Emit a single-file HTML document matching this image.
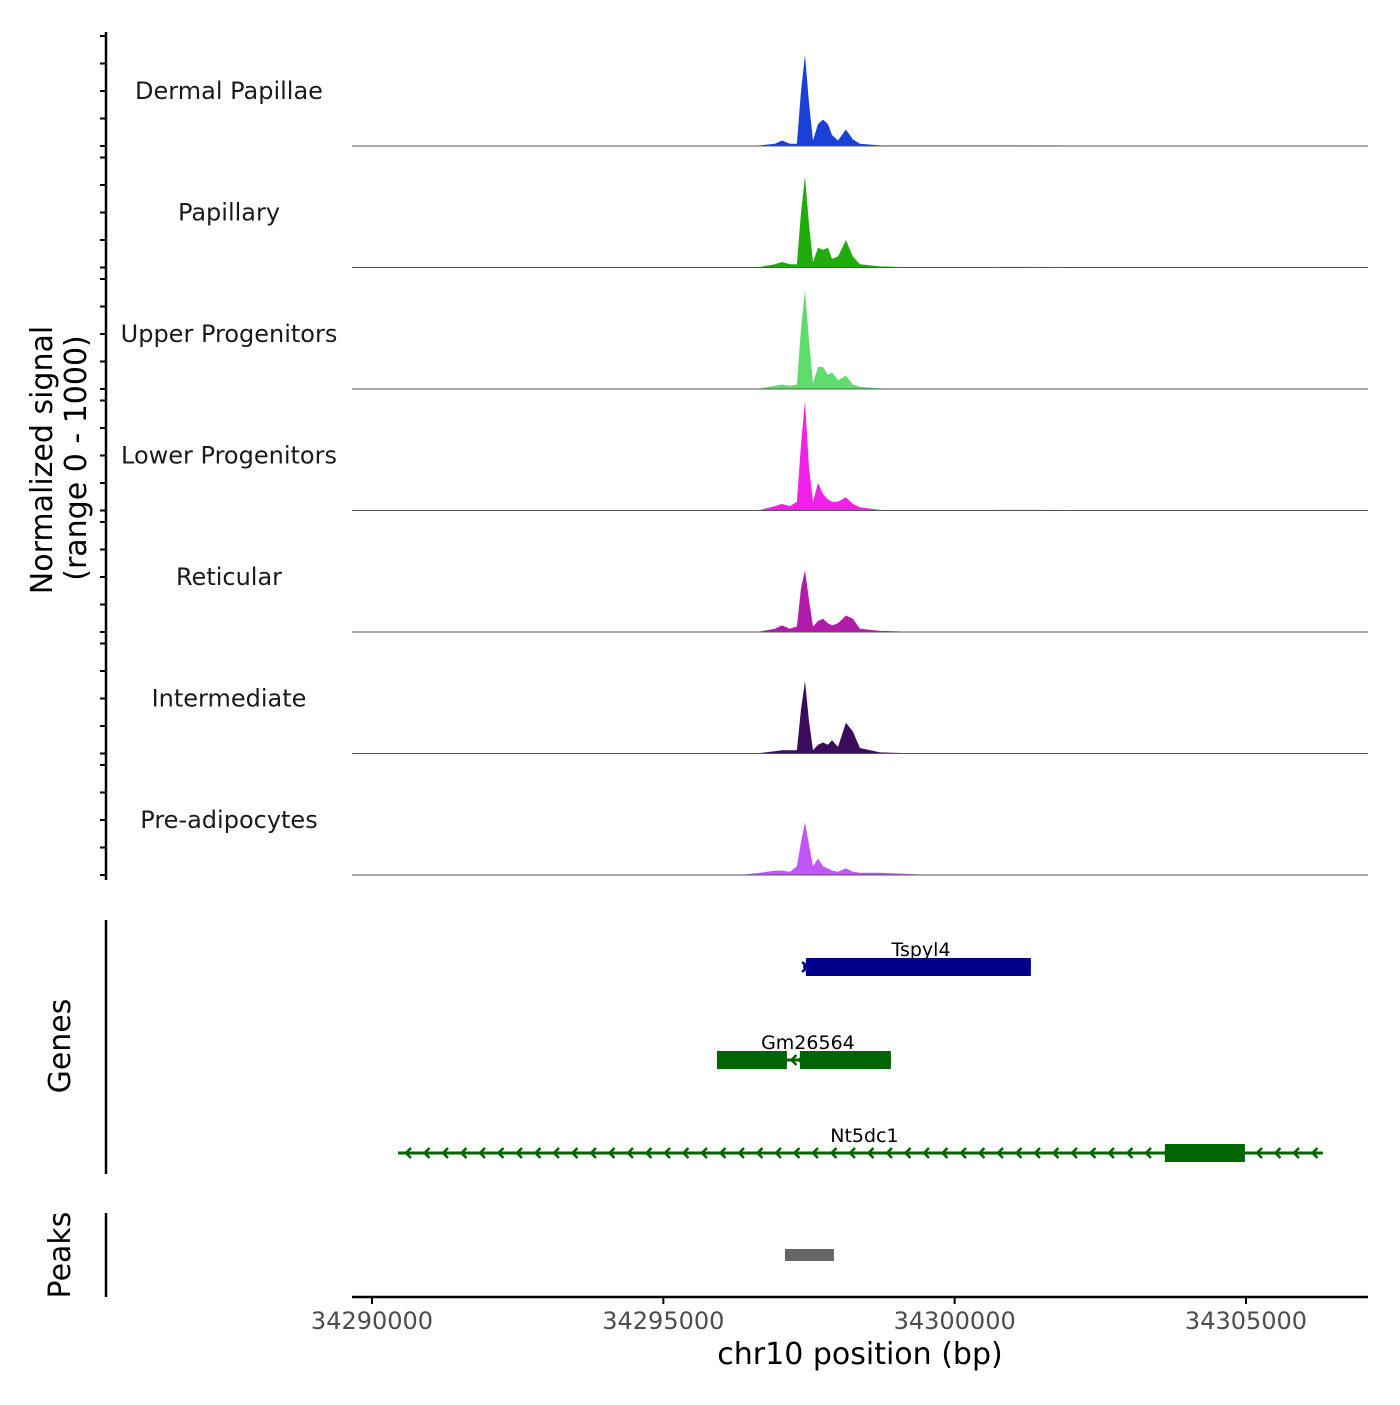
<!DOCTYPE html>
<html><head><meta charset="utf-8"><style>
html,body{margin:0;padding:0;background:#fff}
svg text{font-family:"DejaVu Sans","Liberation Sans",sans-serif}
</style></head><body>
<svg id="chart" width="1400" height="1400" viewBox="0 0 1400 1400" xmlns="http://www.w3.org/2000/svg">
<g id="signal"></g>
<g id="genes"></g>
<g id="peaks"></g>
<g id="axes"></g>
</svg>
<script>
const trackNames = ["Dermal Papillae","Papillary","Upper Progenitors","Lower Progenitors","Reticular","Intermediate","Pre-adipocytes"];
const trackColors = ["#1a40d8","#1fab0c","#5edc6c","#f022ea","#b21aaa","#3b0b5c","#c055f8"];
const positions = [34289657,34290480,34296315,34296658,34296915,34297036,34297173,34297293,34297362,34297431,34297499,34297568,34297654,34297740,34297825,34297894,34297997,34298134,34298254,34298374,34298717,34299404,34300862,34307109];
const dermalPapillae = [0,0,0,0.005,0.02,0.05,0.02,0.02,0.5,0.83,0.4,0.05,0.2,0.24,0.2,0.1,0.05,0.15,0.06,0.02,0.005,0.005,0.005,0];
const papillary = [0,0,0,0.005,0.03,0.05,0.03,0.03,0.5,0.83,0.4,0.05,0.18,0.16,0.18,0.08,0.1,0.25,0.1,0.03,0.01,0,0.005,0];
const upperProgenitors = [0,0,0,0.005,0.03,0.04,0.03,0.04,0.55,0.9,0.45,0.05,0.2,0.2,0.13,0.15,0.08,0.12,0.04,0.02,0.005,0,0,0];
const lowerProgenitors = [0,0,0,0.005,0.04,0.06,0.04,0.08,0.6,1.0,0.4,0.08,0.25,0.15,0.1,0.08,0.08,0.12,0.06,0.03,0.005,0,0.005,0];
const reticular = [0,0,0,0.005,0.03,0.06,0.03,0.05,0.4,0.56,0.3,0.05,0.1,0.12,0.08,0.06,0.08,0.15,0.12,0.03,0.01,0,0,0];
const intermediate = [0,0,0,0.005,0.02,0.03,0.03,0.03,0.4,0.66,0.3,0.03,0.08,0.1,0.08,0.12,0.06,0.28,0.2,0.05,0.01,0,0,0];
const preAdipocytes = [0,0.005,0,0.02,0.04,0.04,0.03,0.08,0.3,0.48,0.28,0.08,0.15,0.08,0.06,0.04,0.03,0.06,0.03,0.02,0.02,0.005,0,0];
const trackValues = [dermalPapillae,papillary,upperProgenitors,lowerProgenitors,reticular,intermediate,preAdipocytes];
const geneNames = ["Tspyl4","Gm26564","Nt5dc1"];
const geneStrands = ["+","-","-"];
const geneStarts = [34297400,34295920,34290446];
const geneEnds = [34301308,34298906,34306319];
const exonStarts = [[34297447],[34295920,34297344],[34303608]];
const exonEnds = [[34301308],[34297121,34298906],[34304981]];
const geneColors = ["#00008b","#006400","#006400"];
const peakStarts = [34297087];
const peakEnds = [34297928];
const xTicks = [34290000,34295000,34300000,34305000];

const NS="http://www.w3.org/2000/svg";
function el(tag,attrs,parent){const e=document.createElementNS(NS,tag);for(const k in attrs)e.setAttribute(k,attrs[k]);parent.appendChild(e);return e;}
const X0=352,X1=1368;
const xs = bp => 372 + (bp-34290000)*(874/15000);
const baseY = i => 146 + i*121.5;
const H=110;
const yScale = (i,v) => baseY(i) - v*H;

const sig=document.getElementById('signal');
trackValues.forEach((vals,i)=>{
  let d=`M${X0},${baseY(i)}`;
  vals.forEach((v,j)=>{d+=` L${Math.max(X0,Math.min(X1,xs(positions[j]))).toFixed(1)},${yScale(i,v).toFixed(1)}`;});
  d+=` L${X1},${baseY(i)} Z`;
  const p=el('path',{d:d,fill:trackColors[i]},sig);
  
  
  const bl=el('line',{x1:X0,x2:X1,y1:baseY(i),y2:baseY(i),stroke:'#555','stroke-width':1},sig);
  
  
  const t=el('text',{x:229,y:baseY(i)-47,'text-anchor':'middle','font-size':24,fill:'#1a1a1a'},sig);
  t.textContent=trackNames[i];
  
  
});

const gg=document.getElementById('genes');
const geneY=[967,1060,1153];
function chevron(g,x,y,strand,c){const dx=strand==='+'?-5:5;el('polyline',{points:`${x+dx},${y-5} ${x},${y} ${x+dx},${y+5}`,fill:'none',stroke:c,'stroke-width':2.5},g);}
geneNames.forEach((n,i)=>{
  const y=geneY[i], c=geneColors[i];
  const g=el('g',{},gg);
  
  
  const x1=xs(geneStarts[i]),x2=xs(geneEnds[i]);
  el('line',{x1:x1,x2:x2,y1:y,y2:y,stroke:c,'stroke-width':3},g);
  const step=18.5;
  for(let x=x1+8;x<x2-4;x+=step){chevron(g,x,y,geneStrands[i],c);}
  exonStarts[i].forEach((s,k)=>{
    el('rect',{x:xs(s),y:y-9,width:xs(exonEnds[i][k])-xs(s),height:18,fill:c},g);
  });
  for(let k=0;k<exonStarts[i].length-1;k++){
    const a=xs(exonEnds[i][k]),b=xs(exonStarts[i][k+1]);
    chevron(g,(a+b)/2-2,y,geneStrands[i],c);
  }
  if(geneStrands[i]==='+'){chevron(g,x1+4,y,'+',c);}
  const t=el('text',{x:(x1+x2)/2+4,y:y-11,'text-anchor':'middle','font-size':19,fill:'#000'},g);
  t.textContent=n;
  
  
});

const pk=document.getElementById('peaks');
peakStarts.forEach((s,i)=>{
  const r=el('rect',{x:xs(s),y:1249,width:xs(peakEnds[i])-xs(s),height:12,fill:'#666666'},pk);
  
  
});

const ax=document.getElementById('axes');
function line(a,name){const l=el('line',Object.assign({stroke:'#000','stroke-width':2.5},a),ax);return l;}
line({x1:106,x2:106,y1:32,y2:880},'signal-y-axis');
for(let i=0;i<7;i++){for(let k=0;k<5;k++){const y=baseY(i)-k*27.5;line({x1:100,x2:106,y1:y,y2:y,'stroke-width':2},'y-tick');}}
line({x1:106,x2:106,y1:920,y2:1174},'genes-axis');
line({x1:106,x2:106,y1:1213,y2:1297},'peaks-axis');
line({x1:X0,x2:X1,y1:1297,y2:1297},'x-axis');
xTicks.forEach(v=>{
  const x=xs(v);
  line({x1:x,x2:x,y1:1297,y2:1304,'stroke-width':2},'x-tick');
  const t=el('text',{x:x,y:1329,'text-anchor':'middle','font-size':24,fill:'#4d4d4d'},ax);
  t.textContent=String(v);
  
  
});
function txt(s,a,name){const t=el('text',Object.assign({'text-anchor':'middle',fill:'#000'},a),ax);t.textContent=s;}
txt('chr10 position (bp)',{x:860,y:1364,'font-size':30},'x-axis-title');
txt('Normalized signal',{x:0,y:0,'font-size':30,transform:'translate(52,460) rotate(-90)'},'y-axis-title');
txt('(range 0 - 1000)',{x:0,y:0,'font-size':30,transform:'translate(86,458) rotate(-90)'},'y-axis-subtitle');
txt('Genes',{x:0,y:0,'font-size':30,transform:'translate(70,1046) rotate(-90)'},'genes-axis-title');
txt('Peaks',{x:0,y:0,'font-size':30,transform:'translate(70,1255) rotate(-90)'},'peaks-axis-title');
</script>
</body></html>
